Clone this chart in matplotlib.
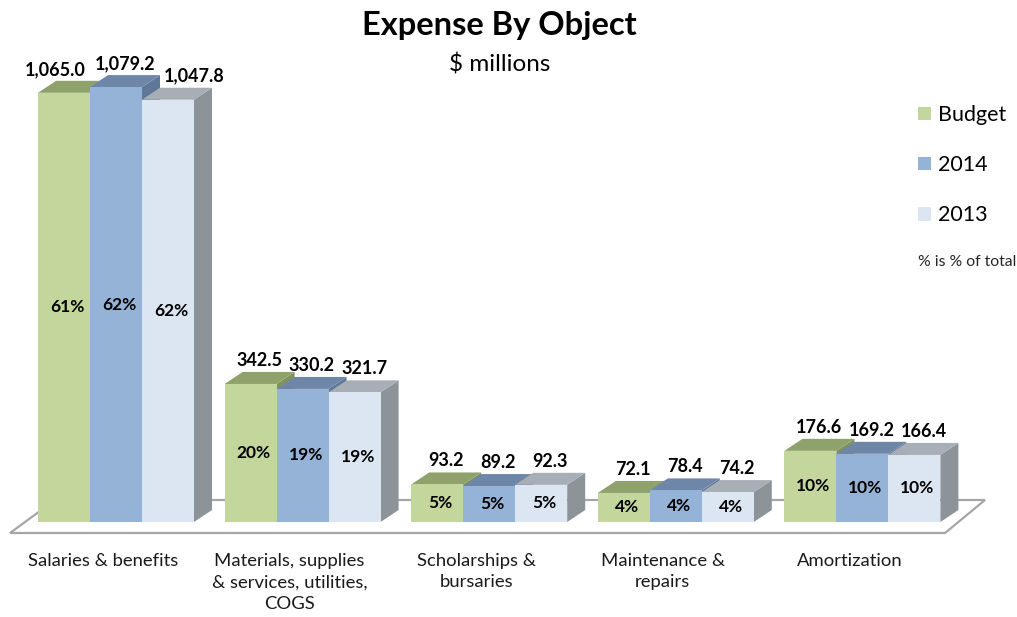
import matplotlib
matplotlib.use("Agg")
import matplotlib.pyplot as plt
from matplotlib.patches import Polygon, Patch

plt.rcParams["font.family"] = ["Lato", "DejaVu Sans"]

categories = ["Salaries & benefits",
              "Materials, supplies\n& services, utilities,\nCOGS",
              "Scholarships &\nbursaries",
              "Maintenance &\nrepairs",
              "Amortization"]
series = ["Budget", "2014", "2013"]
budget = [1065.0, 342.5, 93.2, 72.1, 176.6]
y2014 = [1079.2, 330.2, 89.2, 78.4, 169.2]
y2013 = [1047.8, 321.7, 92.3, 74.2, 166.4]
pct_budget = ["61%", "20%", "5%", "4%", "10%"]
pct_2014 = ["62%", "19%", "5%", "4%", "10%"]
pct_2013 = ["62%", "19%", "5%", "4%", "10%"]

values = [budget, y2014, y2013]
pcts = [pct_budget, pct_2014, pct_2013]

# front / top / side colours per series
front = ["#c3d69b", "#95b3d7", "#dce6f2"]
top = ["#8fa26c", "#6e87a8", "#a7aeb5"]
side = ["#7f9258", "#5f7899", "#8c9399"]

fig = plt.figure(figsize=(10.17, 6.17), dpi=100)
ax = fig.add_axes([0, 0, 1, 1])
# pixel based layout: group spacing 186.6 px, 0.403 px per $M
px_x = 1 / 186.6
px_y = 1 / 0.403
ax.set_xlim(-116 * px_x, (1017 - 116) * px_x)
ax.set_ylim(-95 * px_y, (617 - 95) * px_y)
ax.set_axis_off()

w = 52 * px_x
dx = 18 * px_x
dy = 12 * px_y

# floor
floor = Polygon([(-0.568, -11 * px_y), (4.443, -11 * px_y),
                 (4.657, 22 * px_y), (-0.327, 22 * px_y)],
                closed=True, facecolor="white", edgecolor="#a6a6a6", lw=1.6, zorder=1)
ax.add_patch(floor)

for i in range(len(categories)):
    labels = [f"{values[j][i]:,.1f}" for j in range(len(series))]
    # spread value labels apart when they would overlap (like Excel does)
    label_w = max(len(s) for s in labels) * 8.5 + 10
    sep = max(w, label_w * px_x)
    for j in range(len(series)):
        h = values[j][i]
        x0 = i + (j - 1.5) * w
        x1 = x0 + w
        ax.add_patch(Polygon([(x1, 0), (x1 + dx, dy), (x1 + dx, h + dy), (x1, h)],
                             closed=True, facecolor=side[j], edgecolor="none", zorder=2 + j))
        ax.add_patch(Polygon([(x0, h), (x1, h), (x1 + dx, h + dy), (x0 + dx, h + dy)],
                             closed=True, facecolor=top[j], edgecolor="none", zorder=2 + j))
        ax.add_patch(Polygon([(x0, 0), (x1, 0), (x1, h), (x0, h)],
                             closed=True, facecolor=front[j], edgecolor="none", zorder=2 + j))
        ax.text(i + (j - 1) * sep + dx / 2, h + dy + 3 * px_y, labels[j],
                ha="center", va="bottom", fontsize=13, fontweight="bold", zorder=10)
        ax.text(x0 + w / 2 + 3 * px_x, h / 2, pcts[j][i],
                ha="center", va="center", fontsize=12.5, fontweight="bold", zorder=10)
    ax.text(i - 0.07, -31 * px_y, categories[i], ha="center", va="top",
            fontsize=13.3, linespacing=1.42, color="#1a1a1a")

fig.text(0.491, 1 - 26 / 617, "Expense By Object", ha="center", va="center",
         fontsize=23.5, fontweight="bold")
fig.text(0.491, 1 - 65 / 617, "$ millions", ha="center", va="center", fontsize=17.5)

handles = [Patch(facecolor=front[j], edgecolor="none") for j in range(len(series))]
fig.legend(handles, series, loc="upper left", bbox_to_anchor=(0.9027, 1 - 105 / 617),
           frameon=False, fontsize=15.5, labelspacing=1.4, handlelength=0.6,
           handleheight=0.6, handletextpad=0.35, borderaxespad=0, borderpad=0)
fig.text(0.9027, 1 - 262 / 617, "% is % of total", ha="left", va="center", fontsize=11.3,
         color="#262626")

fig.savefig("out.png", dpi=100)
